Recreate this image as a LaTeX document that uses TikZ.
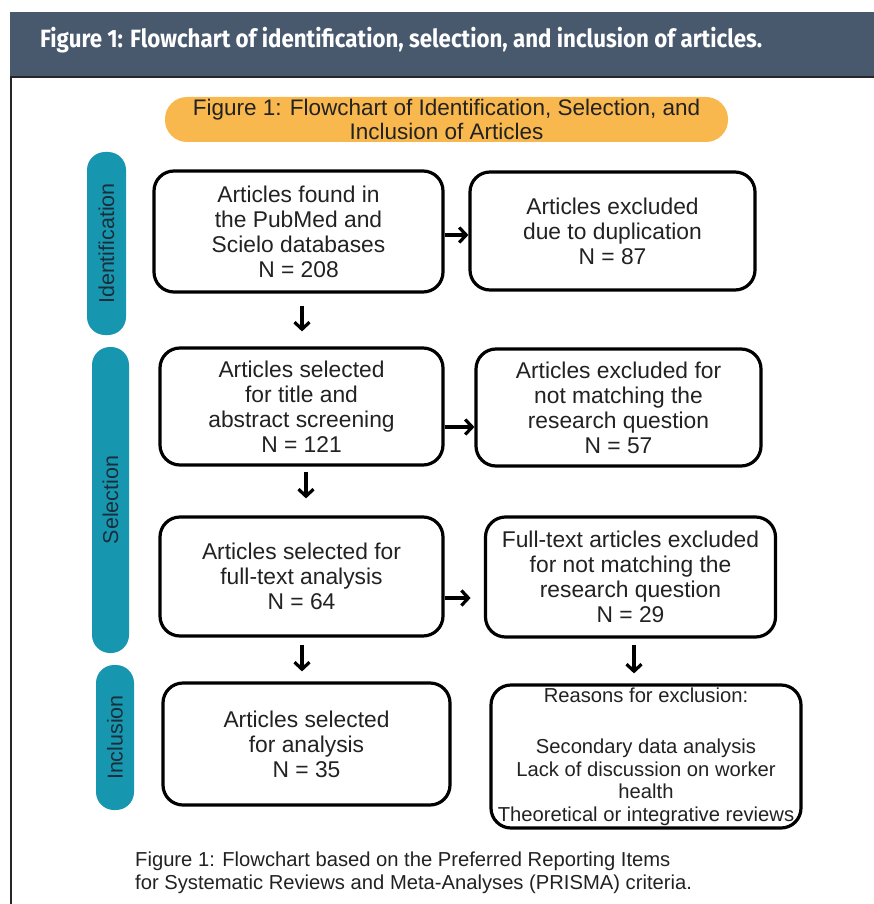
\documentclass[tikz,border=0pt]{standalone}
\usepackage{fontspec}
\usepackage{graphicx}
\setmainfont{Liberation Sans}
\newfontfamily\hdrfont{Fira Sans}
\usetikzlibrary{arrows.meta,calc}
\definecolor{hdrbg}{HTML}{48596E}
\definecolor{barteal}{HTML}{1797AF}
\definecolor{pillor}{HTML}{F8B84E}
\definecolor{txtgray}{HTML}{222222}
\definecolor{bartxt}{HTML}{1A2E3A}
\begin{document}
\begin{tikzpicture}[x=1pt,y=-1pt,
  flowbox/.style={draw=black, line width=3.2pt, rounded corners=20pt, fill=white,
    text=txtgray, align=center, inner sep=0pt, font=\fontsize{22.8}{25}\selectfont},
  sidebar/.style={fill=barteal, rounded corners=18pt, rotate=90, inner sep=0pt,
    text=bartxt, font=\fontsize{21.5}{24}\selectfont},
  arr/.style={line width=3.2pt, draw=black, -{Straight Barb[length=7pt,width=15pt]}}]
\useasboundingbox (0,0) rectangle (874,904);
\fill[white] (0,0) rectangle (874,904);
% header band
\fill[hdrbg] (10,12) rectangle (874,77);
\draw[line width=1.2pt, color=black!85] (11,904) -- (11,77) -- (874,77);
\node[anchor=base west, inner sep=0pt, text=white] (hdr) at (40,48)
  {\resizebox{722pt}{\height}{\hdrfont\bfseries\fontsize{25}{28}\selectfont Figure 1: Flowchart of identification, selection, and inclusion of articles.}};
% orange title pill
\node[fill=pillor, rounded corners=22pt, minimum width=563pt, minimum height=45pt,
  inner sep=0pt, align=center, text=txtgray, font=\fontsize{22.5}{24}\selectfont] (pill) at (446.5,119.5)
  {Figure 1: Flowchart of Identification, Selection, and\\Inclusion of Articles};
% side bars
\node[sidebar, minimum width=183pt, minimum height=39pt] (sid) at (106.5,243.5) {Identification};
\node[sidebar, minimum width=306pt, minimum height=37pt] (sse) at (110.5,500) {Selection};
\node[sidebar, minimum width=145pt, minimum height=38pt] (sin) at (115,737.5) {Inclusion};
% boxes
\node[flowbox, minimum width=289pt, minimum height=121pt] (b1) at (298.5,231.5)
  {Articles found in\\the PubMed and\\Scielo databases\\N = 208};
\node[flowbox, minimum width=285pt, minimum height=118pt] (b2) at (612.5,231)
  {Articles excluded\\due to duplication\\N = 87};
\node[flowbox, minimum width=283pt, minimum height=117pt] (b3) at (301.5,406.5)
  {Articles selected\\for title and\\abstract screening\\N = 121};
\node[flowbox, minimum width=285pt, minimum height=117pt] (b4) at (618.5,407.5)
  {Articles excluded for\\not matching the\\research question\\N = 57};
\node[flowbox, minimum width=283pt, minimum height=119pt] (b5) at (301.5,576.5)
  {Articles selected for\\full-text analysis\\N = 64};
\node[flowbox, minimum width=285pt, minimum height=120pt] (b6) at (630.5,577)
  {\raisebox{-6pt}{\parbox{290pt}{\centering Full-text articles excluded\\for not matching the\\research question\\N = 29}}};
\node[flowbox, minimum width=287pt, minimum height=122pt] (b7) at (306.5,744)
  {Articles selected\\for analysis\\N = 35};
\node[flowbox, minimum width=306pt, minimum height=143pt, font=\fontsize{20.2}{22.5}\selectfont] (b8) at (646,756.5)
  {\raisebox{3pt}{\parbox{310pt}{\centering Reasons for exclusion:\\[29pt]Secondary data analysis\\Lack of discussion on worker\\health\\Theoretical or integrative reviews}}};
% connectors
\draw[arr] ([yshift=-3.5pt]b1.east) -- ([yshift=-3.5pt]b1.east -| b2.west);
\draw[arr] ([yshift=-20.5pt]b3.east) -- ([yshift=-20.5pt]b3.east -| b4.west);
\draw[arr] ([yshift=-21.5pt]b5.east) -- ++(26,0);
\draw[arr] ($(b1.south)+(3.5,12)$) -- ($(b3.north)+(0.5,-15)$);
\draw[arr] ($(b3.south)+(4.5,5)$) -- ($(b5.north)+(4.5,-17)$);
\draw[arr] ($(b5.south)+(0.5,7)$) -- ($(b7.north)+(-4.5,-10)$);
\draw[arr] ($(b6.south)+(3.5,6)$) -- ($(b8.north)+(-12,-10)$);
% caption
\node[anchor=north west, inner sep=0pt, align=left, text=txtgray,
  font=\fontsize{20.2}{23}\selectfont] (cap) at (135,852)
  {Figure 1: Flowchart based on the Preferred Reporting Items\\for Systematic Reviews and Meta-Analyses (PRISMA) criteria.};
\end{tikzpicture}
\end{document}
